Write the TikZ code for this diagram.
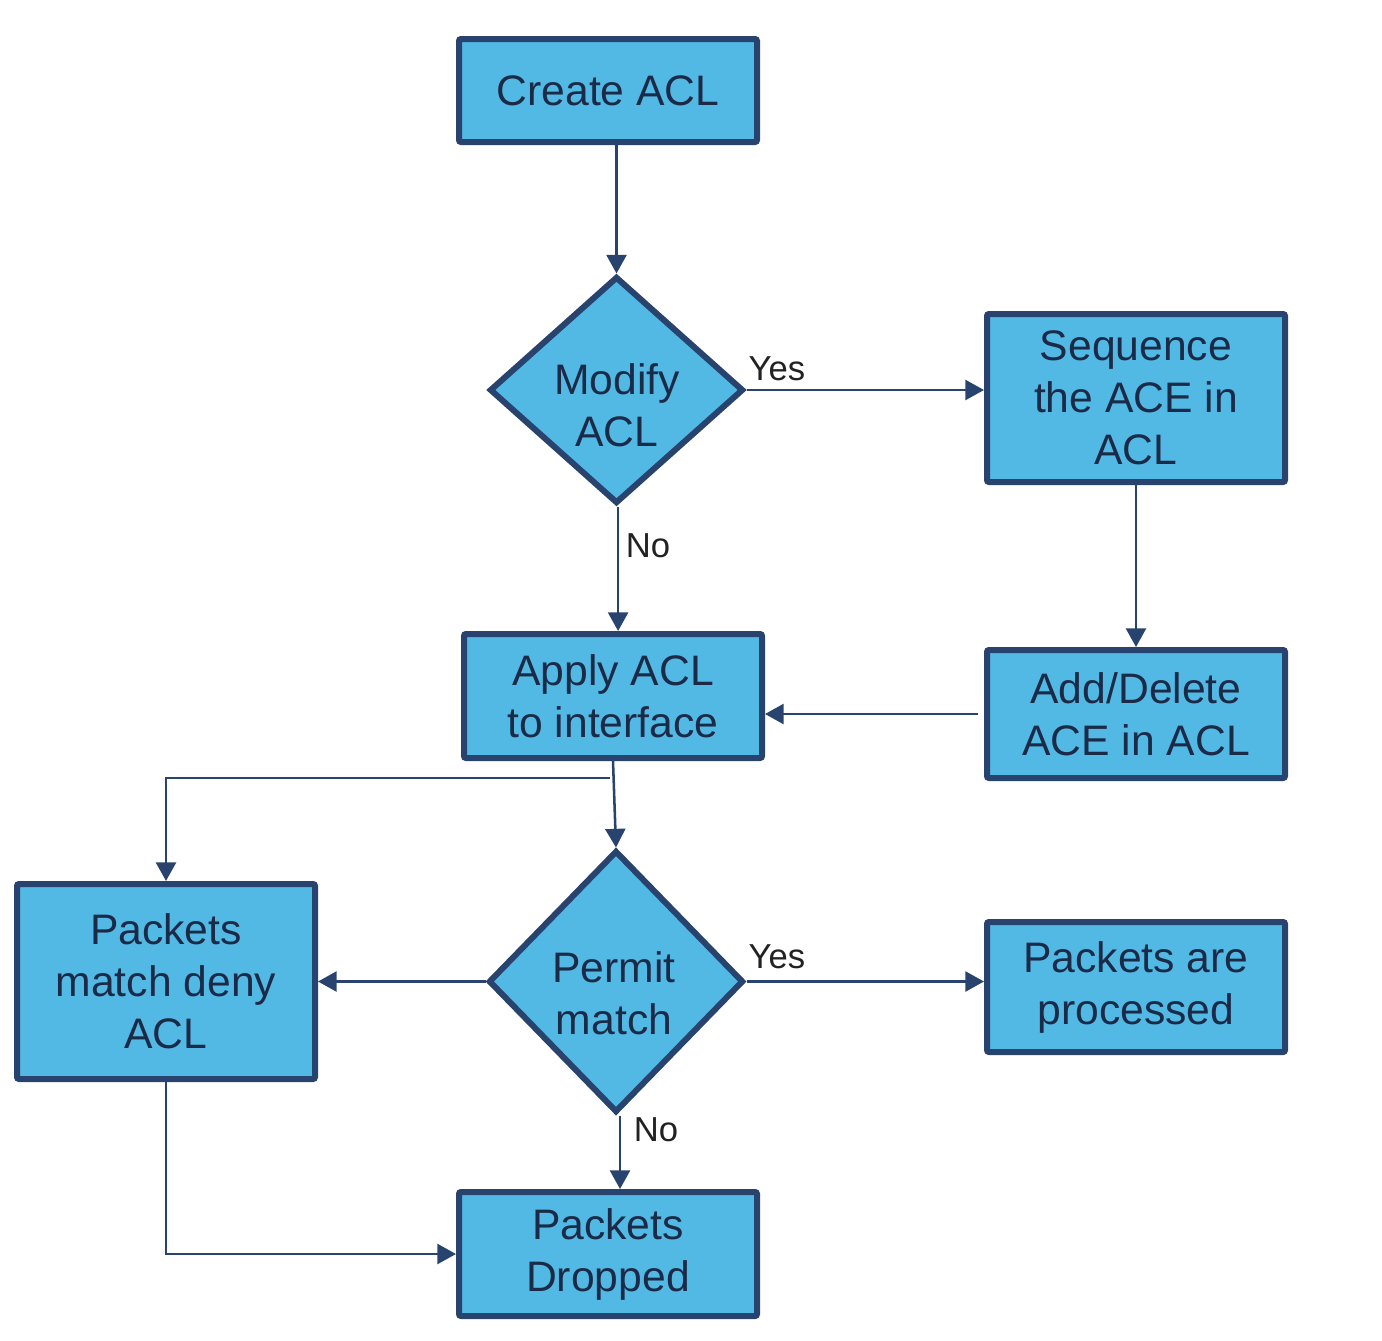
\documentclass[tikz,border=0pt]{standalone}
\usepackage{fontspec}
\setmainfont{Liberation Sans}
\usetikzlibrary{shapes.geometric,arrows.meta}
\definecolor{boxfill}{HTML}{52B9E5}
\definecolor{boxline}{HTML}{28446E}
\definecolor{txtcol}{HTML}{1B2A47}
\definecolor{lblcol}{HTML}{222222}
\begin{document}
\begin{tikzpicture}[x=0.75pt,y=-0.75pt,
  box/.style={draw=boxline,fill=boxfill,line width=4.5pt,rounded corners=1.5pt,
    minimum width=223.5pt,inner sep=0pt,align=center,text=txtcol,
    font=\fontsize{32}{39}\selectfont},
  dia/.style={draw=boxline,fill=boxfill,line width=4.5pt,diamond,inner sep=0pt,miter limit=10},
  dtxt/.style={align=center,text=txtcol,font=\fontsize{32}{39}\selectfont,inner sep=0pt},
  lbl/.style={text=lblcol,font=\fontsize{26}{30}\selectfont,inner sep=0pt},
  conn/.style={draw=boxline,line width=1.9pt,-{Triangle[length=14pt,width=15pt]}},
  plain/.style={draw=boxline,line width=1.9pt}]
\useasboundingbox (0,0) rectangle (1382,1340);

\node[box,minimum height=77.25pt] (create) at (608,90.5) {Create ACL};
\node[dia,minimum width=190.5pt,minimum height=170.25pt] (modify) at (616.5,390) {};
\node[dtxt] (modifyt) at (617,405) {Modify\\ACL};
\node[box,minimum height=126pt] (seq) at (1136,398) {Sequence\\the ACE in\\ACL};
\node[box,minimum height=93pt] (apply) at (613,696) {Apply ACL\\to interface};
\node[box,minimum height=96pt] (add) at (1136,714) {Add/Delete\\ACE in ACL};
\node[box,minimum height=146.25pt] (deny) at (166,981.5) {Packets\\match deny\\ACL};
\node[dia,minimum width=191.25pt,minimum height=196.5pt] (permit) at (616,981.5) {};
\node[dtxt] (permitt) at (614,993) {Permit\\match};
\node[box,minimum height=97.5pt] (proc) at (1136,987) {Packets are\\processed};
\node[box,minimum height=93pt] (drop) at (608,1254) {Packets\\Dropped};

\coordinate (br) at (610,778);
\coordinate (dropc) at (166,1254);

\draw[conn] (modify.north |- create.south) -- (modify.north);
\draw[conn] (modify.east) -- (modify.east -| seq.west);
\draw[conn] (seq.south) -- (add.north);
\draw[conn] ([xshift=-4.5pt]add.west) -- (add.west -| apply.east);
\draw[conn] ([xshift=1.2pt]modify.south) -- ([xshift=1.2pt]modify.south |- apply.north);
\draw[conn] (apply.south) -- (permit.north);
\draw[conn] (br) -- (br -| deny.north) -- (deny.north);
\draw[conn] (permit.west) -- (permit.west -| deny.east);
\draw[conn] (permit.east) -- (permit.east -| proc.west);
\draw[conn] ([xshift=3pt]permit.south) -- ([xshift=3pt]permit.south |- drop.north);
\draw[conn] (deny.south) -- (dropc) -- (dropc -| drop.west);

\node[lbl] (yes1) at (777,369) {Yes};
\node[lbl] (no1) at (648,546) {No};
\node[lbl] (yes2) at (777,957) {Yes};
\node[lbl] (no2) at (656,1130) {No};
\end{tikzpicture}
\end{document}
